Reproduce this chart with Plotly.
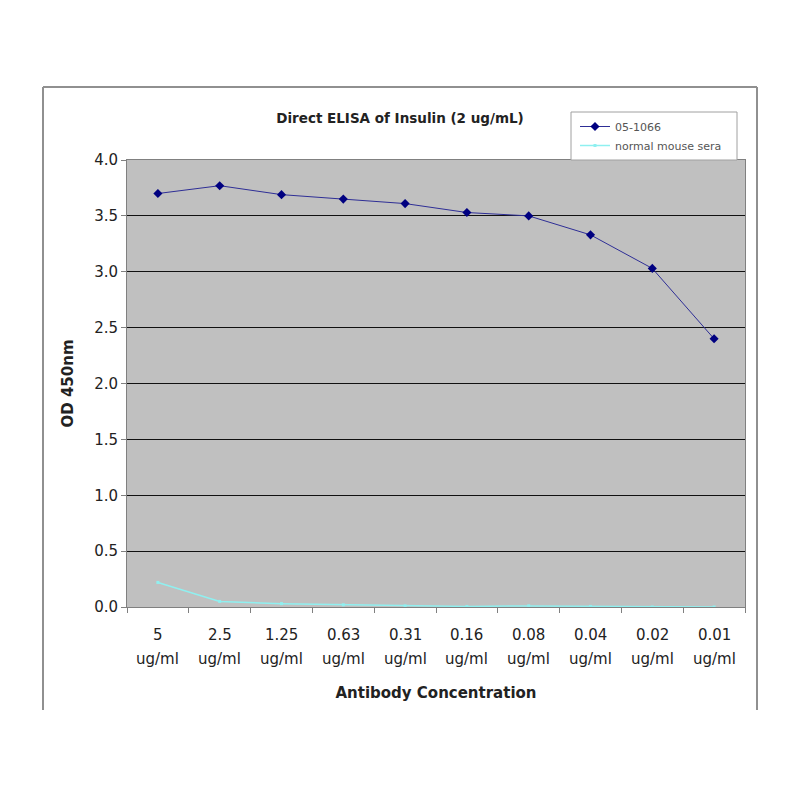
import plotly.graph_objects as go

concentrations = ["5", "2.5", "1.25", "0.63", "0.31", "0.16", "0.08", "0.04", "0.02", "0.01"]
unit = "ug/ml"
antibody_05_1066 = [3.70, 3.77, 3.69, 3.65, 3.61, 3.53, 3.50, 3.33, 3.03, 2.40]
normal_mouse_sera = [0.22, 0.05, 0.03, 0.02, 0.01, 0.005, 0.01, 0.005, 0.0, 0.0]
y_ticks = [0.0, 0.5, 1.0, 1.5, 2.0, 2.5, 3.0, 3.5, 4.0]

FONT = "DejaVu Sans, Verdana, sans-serif"
TXT = "#222"

fig = go.Figure()
fig.add_trace(go.Scatter(
    x=concentrations, y=antibody_05_1066, name="05-1066", mode="lines+markers",
    line=dict(color="#2e2e96", width=1),
    marker=dict(symbol="diamond", size=7, color="#000080"),
))
fig.add_trace(go.Scatter(
    x=concentrations, y=normal_mouse_sera, name="normal mouse sera", mode="lines+markers",
    line=dict(color="#8ff0f0", width=1.5),
    marker=dict(symbol="square", size=3, color="#8ff0f0"),
))

# plot area: x 127..745, y 160..607
L, R, T, B = 127, 745, 160, 607
W, H = R - L, B - T
def px(x):
    return (x - L) / W
def py(y):
    return (B - y) / H

fig.update_layout(
    width=800, height=800,
    margin=dict(l=L, r=800 - R, t=T, b=800 - B),
    paper_bgcolor="white", plot_bgcolor="#c0c0c0",
    font=dict(family=FONT, color=TXT),
    title=dict(text="<b>Direct ELISA of Insulin (2 ug/mL)</b>", x=0.5, xanchor="center",
               y=1 - 118 / 800, yanchor="middle", font=dict(size=13.5, color=TXT)),
    showlegend=True,
    legend=dict(x=px(575), y=py(112), xanchor="left", yanchor="top",
                bgcolor="rgba(0,0,0,0)", borderwidth=0,
                font=dict(size=11, color="#555"), tracegroupgap=0, itemwidth=30),
    xaxis=dict(
        type="category", tickson="boundaries", ticks="outside", ticklen=5, tickcolor="#808080",
        showline=True, linecolor="#808080", linewidth=1, mirror=True,
        showgrid=False, showticklabels=False,
        title=dict(text="<b>Antibody Concentration</b>", font=dict(size=15, color=TXT), standoff=80),
        range=[-0.5, 9.5], fixedrange=True, automargin=False,
    ),
    yaxis=dict(
        range=[0, 4.0], tickvals=y_ticks, ticktext=[f"{v:.1f}" for v in y_ticks],
        ticks="outside", ticklen=5, tickcolor="#808080",
        showline=True, linecolor="#808080", linewidth=1, mirror=True,
        showgrid=True, gridcolor="#111111", gridwidth=1, zeroline=False,
        tickfont=dict(size=15, color=TXT), automargin=False,
        title=dict(text="<b>OD 450nm</b>", font=dict(size=15, color=TXT), standoff=16),
    ),
)

# two-line category labels (x given as category index)
for i, c in enumerate(concentrations):
    fig.add_annotation(x=i, y=0, xref="x", yref="paper", text=c, showarrow=False,
                       yanchor="middle", yshift=-(635 - B), font=dict(size=15, color=TXT))
    fig.add_annotation(x=i, y=0, xref="x", yref="paper", text=unit, showarrow=False,
                       yanchor="middle", yshift=-(659 - B), font=dict(size=15, color=TXT))

# legend box
fig.add_shape(type="rect", xref="paper", yref="paper", x0=px(571), x1=px(737),
              y0=py(160), y1=py(112), fillcolor="white", line=dict(color="#a0a0a0", width=1))

# outer frame (left, top, right lines)
frame = dict(type="line", xref="paper", yref="paper", line=dict(color="#909090", width=2))
fig.add_shape(**frame, x0=px(43), x1=px(43), y0=py(710), y1=py(87))
fig.add_shape(**frame, x0=px(43), x1=px(757), y0=py(87), y1=py(87))
fig.add_shape(**frame, x0=px(757), x1=px(757), y0=py(87), y1=py(710))

fig.write_html("out.html")
